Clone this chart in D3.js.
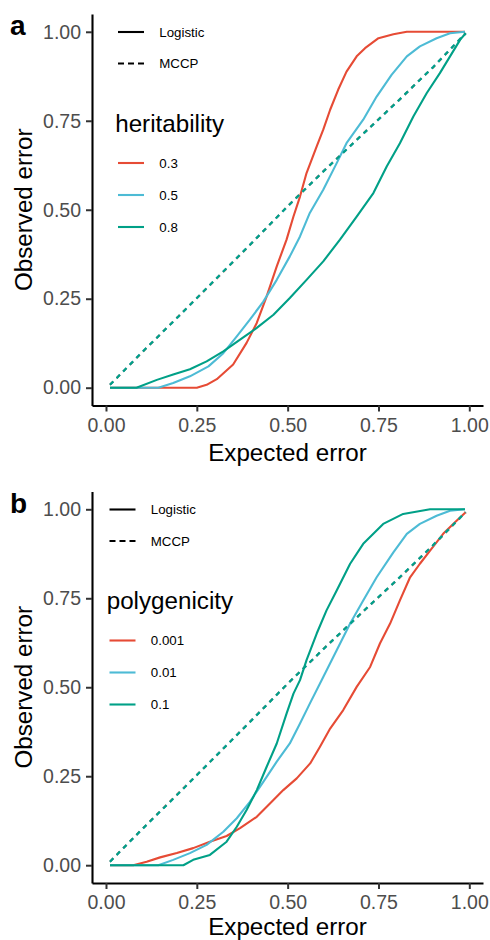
<!DOCTYPE html>
<html>
<head>
<meta charset="utf-8">
<script src="https://cdn.jsdelivr.net/npm/d3@7"></script>
<style>
  html, body { margin: 0; padding: 0; background: #fff; }
  svg text { font-family: "Liberation Sans", Arial, sans-serif; }
</style>
</head>
<body>
<div id="chart"></div>
<script>
// calibration curves: [expected, observed]
const tickValues = [0, 0.25, 0.5, 0.75, 1]
const seriesColors = ['#E64B35', '#4DBBD5', '#00A087']

// panel a — heritability
const heritLabels = ['0.3', '0.5', '0.8']
const logisticH03 = [[0.011, 0], [0.25, 0], [0.277, 0.008], [0.305, 0.024], [0.35, 0.065], [0.387, 0.126], [0.415, 0.182], [0.442, 0.256], [0.47, 0.341], [0.497, 0.416], [0.516, 0.481], [0.534, 0.537], [0.552, 0.603], [0.58, 0.678], [0.598, 0.725], [0.617, 0.781], [0.639, 0.837], [0.662, 0.888], [0.69, 0.931], [0.713, 0.954], [0.75, 0.982], [0.791, 0.993], [0.828, 1], [0.988, 1]]
const logisticH05 = [[0.011, 0], [0.144, 0], [0.185, 0.013], [0.231, 0.032], [0.282, 0.06], [0.323, 0.097], [0.36, 0.144], [0.396, 0.191], [0.433, 0.242], [0.47, 0.303], [0.506, 0.369], [0.534, 0.425], [0.561, 0.491], [0.598, 0.556], [0.635, 0.631], [0.662, 0.687], [0.708, 0.753], [0.745, 0.818], [0.786, 0.879], [0.828, 0.931], [0.864, 0.959], [0.91, 0.982], [0.947, 0.996], [0.988, 1]]
const logisticH08 = [[0.011, 0], [0.084, 0], [0.14, 0.022], [0.185, 0.037], [0.231, 0.052], [0.277, 0.074], [0.323, 0.102], [0.369, 0.135], [0.415, 0.168], [0.461, 0.205], [0.506, 0.252], [0.552, 0.303], [0.598, 0.355], [0.644, 0.416], [0.69, 0.481], [0.736, 0.547], [0.773, 0.622], [0.809, 0.687], [0.846, 0.762], [0.883, 0.828], [0.919, 0.884], [0.947, 0.931], [0.975, 0.978], [0.99, 0.996]]
const mccpH03 = [[0.011, 0.008], [0.1, 0.1], [0.2, 0.201], [0.3, 0.302], [0.4, 0.405], [0.5, 0.51], [0.6, 0.61], [0.7, 0.706], [0.8, 0.802], [0.9, 0.9], [0.99, 0.996]]
const mccpH05 = [[0.011, 0.008], [0.1, 0.101], [0.2, 0.2], [0.3, 0.303], [0.4, 0.406], [0.5, 0.509], [0.6, 0.61], [0.7, 0.705], [0.8, 0.801], [0.9, 0.901], [0.99, 0.996]]
const mccpH08 = [[0.011, 0.008], [0.1, 0.1], [0.2, 0.201], [0.3, 0.303], [0.4, 0.405], [0.5, 0.51], [0.6, 0.609], [0.7, 0.706], [0.8, 0.802], [0.9, 0.9], [0.99, 0.996]]

// panel b — polygenicity
const polyLabels = ['0.001', '0.01', '0.1']
const logisticP001 = [[0.011, 0], [0.075, 0], [0.112, 0.01], [0.149, 0.022], [0.195, 0.034], [0.24, 0.048], [0.286, 0.066], [0.332, 0.082], [0.369, 0.104], [0.415, 0.136], [0.452, 0.174], [0.488, 0.211], [0.525, 0.244], [0.562, 0.286], [0.589, 0.333], [0.617, 0.384], [0.653, 0.436], [0.69, 0.501], [0.727, 0.557], [0.754, 0.623], [0.782, 0.679], [0.809, 0.744], [0.837, 0.809], [0.864, 0.847], [0.892, 0.884], [0.928, 0.931], [0.965, 0.968], [0.99, 0.992]]
const logisticP01 = [[0.011, 0], [0.144, 0], [0.185, 0.015], [0.231, 0.034], [0.277, 0.057], [0.323, 0.094], [0.36, 0.132], [0.396, 0.178], [0.433, 0.234], [0.47, 0.291], [0.506, 0.342], [0.534, 0.398], [0.561, 0.454], [0.598, 0.529], [0.635, 0.604], [0.672, 0.679], [0.708, 0.744], [0.745, 0.809], [0.791, 0.879], [0.828, 0.931], [0.864, 0.959], [0.91, 0.982], [0.947, 0.996], [0.988, 1]]
const logisticP1 = [[0.011, 0], [0.213, 0], [0.24, 0.015], [0.286, 0.029], [0.332, 0.066], [0.36, 0.108], [0.387, 0.155], [0.415, 0.211], [0.442, 0.276], [0.47, 0.342], [0.497, 0.426], [0.516, 0.482], [0.534, 0.52], [0.552, 0.576], [0.58, 0.651], [0.607, 0.716], [0.635, 0.772], [0.672, 0.847], [0.708, 0.903], [0.763, 0.959], [0.818, 0.987], [0.892, 1], [0.988, 1]]
const mccpP001 = [[0.011, 0.01], [0.1, 0.102], [0.2, 0.203], [0.3, 0.304], [0.4, 0.407], [0.5, 0.51], [0.6, 0.609], [0.7, 0.705], [0.8, 0.8], [0.9, 0.898], [0.99, 0.992]]
const mccpP01 = [[0.011, 0.01], [0.1, 0.101], [0.2, 0.202], [0.3, 0.305], [0.4, 0.407], [0.5, 0.51], [0.6, 0.608], [0.7, 0.705], [0.8, 0.801], [0.9, 0.899], [0.99, 0.992]]
const mccpP1 = [[0.011, 0.01], [0.1, 0.102], [0.2, 0.202], [0.3, 0.304], [0.4, 0.406], [0.5, 0.51], [0.6, 0.609], [0.7, 0.706], [0.8, 0.801], [0.9, 0.899], [0.99, 0.992]]

const W = 490, H = 940
const svg = d3.select('#chart').append('svg').attr('width', W).attr('height', H)

const left = 92, right = 483, plotH = 391.5
const tickColor = '#4D4D4D'

function panel({ top, tag, title, labels, logistic, mccp, legendX, titleDy }) {
  const bottom = top + plotH
  const x = d3.scaleLinear().domain([-0.0385, 1.0377]).range([left, right])
  const y = d3.scaleLinear().domain([-0.05, 1.05]).range([bottom, top])
  const g = svg.append('g')

  const line = d3.line().x(d => x(d[0])).y(d => y(d[1]))

  // curves: each heritability/polygenicity level, logistic then MCCP
  labels.forEach((lab, i) => {
    g.append('path').datum(logistic[i])
      .attr('d', line).attr('fill', 'none')
      .attr('stroke', seriesColors[i]).attr('stroke-width', 2.1)
      .attr('stroke-linejoin', 'round')
    g.append('path').datum(mccp[i])
      .attr('d', line).attr('fill', 'none')
      .attr('stroke', seriesColors[i]).attr('stroke-width', 2.1)
      .attr('stroke-dasharray', '4.7,4.7')
  })

  // axes
  const ax = g.append('g').attr('transform', `translate(0,${bottom})`)
    .call(d3.axisBottom(x).tickValues(tickValues).tickFormat(d3.format('.2f'))
      .tickSize(6).tickPadding(6.5).tickSizeOuter(0))
  const ay = g.append('g').attr('transform', `translate(${left},0)`)
    .call(d3.axisLeft(y).tickValues(tickValues).tickFormat(d3.format('.2f'))
      .tickSize(6).tickPadding(5).tickSizeOuter(0))
  ;[ax, ay].forEach(a => {
    a.select('.domain').attr('stroke', '#000').attr('stroke-width', 2.1)
    a.selectAll('.tick line').attr('stroke', '#333').attr('stroke-width', 2)
    a.selectAll('.tick text').attr('fill', tickColor).style('font-size', '19.5px')
  })

  // axis titles
  g.append('text').attr('x', (left + right) / 2).attr('y', bottom + titleDy)
    .attr('text-anchor', 'middle').style('font-size', '24.2px').attr('fill', '#000')
    .text('Expected error')
  g.append('text')
    .attr('transform', `translate(31.7,${(top + bottom) / 2}) rotate(-90)`)
    .attr('text-anchor', 'middle').style('font-size', '24.2px').attr('fill', '#000')
    .text('Observed error')

  // panel tag
  g.append('text').attr('x', 10).attr('y', top + 21)
    .style('font-size', '28px').style('font-weight', 'bold').attr('fill', '#000')
    .text(tag)

  // legend: linetype
  const lg = g.append('g')
  const keyW = 26, textDx = 41.3
  ;[['Logistic', null, 18], ['MCCP', '6,4', 49.5]].forEach(([name, dash, dy]) => {
    const cy = top + dy
    lg.append('line').attr('x1', legendX).attr('x2', legendX + keyW)
      .attr('y1', cy).attr('y2', cy)
      .attr('stroke', '#000').attr('stroke-width', 2.1)
      .attr('stroke-dasharray', dash)
    lg.append('text').attr('x', legendX + textDx).attr('y', cy + 4.7)
      .style('font-size', '13.3px').attr('fill', '#000').text(name)
  })
  // legend: colour
  lg.append('text').attr('x', legendX - 2.8).attr('y', top + 117.7)
    .style('font-size', '24.2px').attr('fill', '#000').text(title)
  const entryDy = [149, 181, 213]
  labels.forEach((lab, i) => {
    const cy = top + entryDy[i]
    lg.append('line').attr('x1', legendX).attr('x2', legendX + keyW)
      .attr('y1', cy).attr('y2', cy)
      .attr('stroke', seriesColors[i]).attr('stroke-width', 2.1)
    lg.append('text').attr('x', legendX + textDx).attr('y', cy + 4.7)
      .style('font-size', '13.3px').attr('fill', '#000').text(lab)
  })
}

panel({
  top: 14, tag: 'a', title: 'heritability', labels: heritLabels,
  logistic: [logisticH03, logisticH05, logisticH08],
  mccp: [mccpH03, mccpH05, mccpH08], legendX: 118, titleDy: 55.5
})
panel({
  top: 491.5, tag: 'b', title: 'polygenicity', labels: polyLabels,
  logistic: [logisticP001, logisticP01, logisticP1],
  mccp: [mccpP001, mccpP01, mccpP1], legendX: 109.5, titleDy: 51.5
})
</script>
</body>
</html>
